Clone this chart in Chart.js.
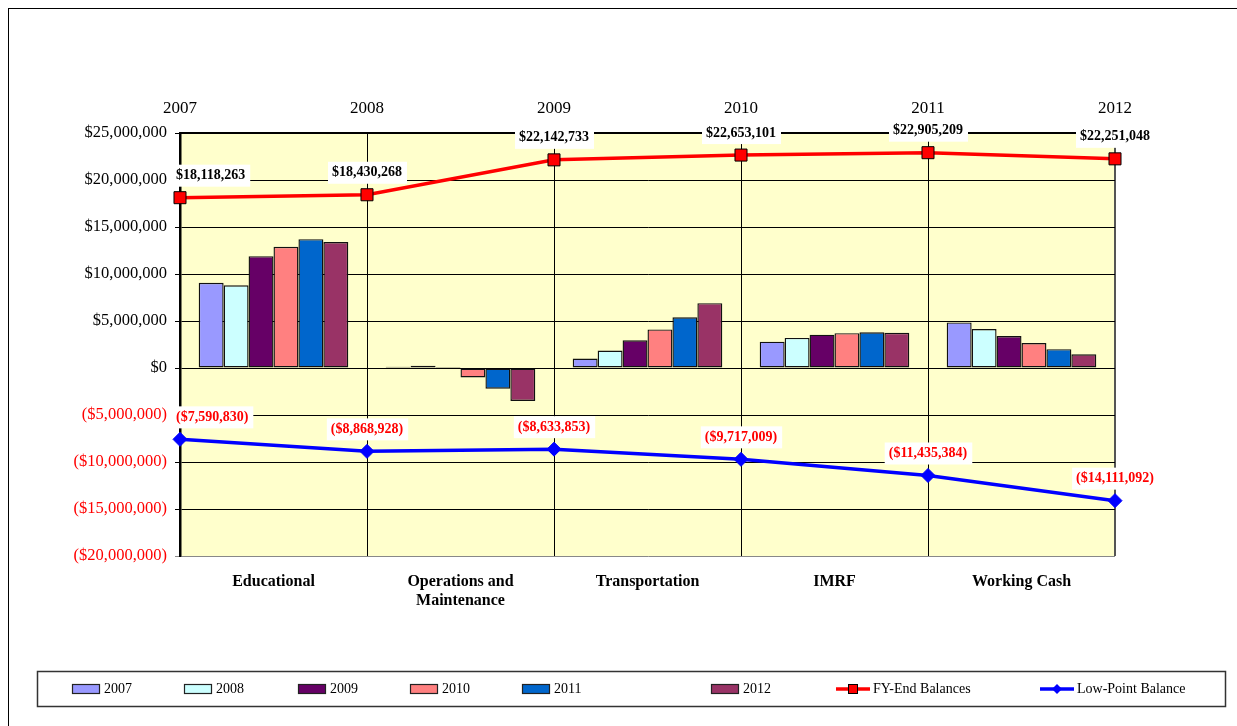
<!DOCTYPE html>
<html>
<head>
<meta charset="utf-8">
<script src="https://cdn.jsdelivr.net/npm/chart.js@4/dist/chart.umd.min.js"></script>
<style>
  html, body { margin: 0; padding: 0; background: #fff; }
  #wrap { position: relative; width: 1237px; height: 726px; }
  #frame { position: absolute; left: 8px; top: 8px; right: 0; bottom: 0;
           border-top: 1px solid #000; border-left: 1px solid #000; }
  #c { position: absolute; left: 0; top: 0; }
</style>
</head>
<body>
<div id="wrap">
  <div id="frame"></div>
  <canvas id="c" width="1237" height="726"></canvas>
</div>
<script>
// categories (funds) and the year tick labels on the top axis
var funds = ['Educational', ['Operations and', 'Maintenance'], 'Transportation', 'IMRF', 'Working Cash'];
var years = ['2007', '2008', '2009', '2010', '2011', '2012'];

// bar values per year, one value per fund (dollars)
var bal2007 = [9070000, 120000, 1000000, 2800000, 4850000];
var bal2008 = [8800000, 250000, 1850000, 3200000, 4150000];
var bal2009 = [11900000, 100000, 2950000, 3550000, 3400000];
var bal2010 = [12900000, -1000000, 4100000, 3700000, 2650000];
var bal2011 = [13700000, -2200000, 5400000, 3800000, 2000000];
var bal2012 = [13400000, -3500000, 6900000, 3750000, 1450000];

// line series, one point per year
var fyEnd = [18118263, 18430268, 22142733, 22653101, 22905209, 22251048];
var lowPoint = [-7590830, -8868928, -8633853, -9717009, -11435384, -14111092];

var barColors = ['#9999FF', '#CCFFFF', '#660066', '#FF8080', '#0066CC', '#993366'];
var serif = "'Liberation Serif', 'Times New Roman', serif";

function money(v) {
  var s = '$' + Math.abs(Math.round(v)).toLocaleString('en-US');
  return v < 0 ? '(' + s + ')' : s;
}

// bars and lines share the linear year axis; fund i sits between year i and year i+1
var barSets = [bal2007, bal2008, bal2009, bal2010, bal2011, bal2012].map(function (arr, i) {
  return {
    type: 'bar',
    label: years[i],
    data: arr.map(function (v, k) { return { x: k + 0.5, y: v }; }),
    backgroundColor: barColors[i],
    borderColor: '#111',
    borderWidth: 1.4,
    borderSkipped: false,
    xAxisID: 'xTop',
    yAxisID: 'y',
    categoryPercentage: 0.8,
    barPercentage: 1.0,
    order: 2
  };
});

var lineSets = [
  {
    type: 'line',
    label: 'FY-End Balances',
    data: fyEnd.map(function (v, i) { return { x: i, y: v }; }),
    borderColor: '#FF0000',
    borderWidth: 3.5,
    pointStyle: 'rect',
    pointRadius: 8.5,
    pointBackgroundColor: '#FF0000',
    pointBorderColor: '#000',
    pointBorderWidth: 1,
    xAxisID: 'xTop',
    yAxisID: 'y',
    clip: false,
    labelColor: '#000',
    order: 0
  },
  {
    type: 'line',
    label: 'Low-Point Balance',
    data: lowPoint.map(function (v, i) { return { x: i, y: v }; }),
    borderColor: '#0000FF',
    borderWidth: 3.5,
    pointStyle: 'rectRot',
    pointRadius: 7,
    pointBackgroundColor: '#0000FF',
    pointBorderColor: '#0000FF',
    pointBorderWidth: 1,
    xAxisID: 'xTop',
    yAxisID: 'y',
    clip: false,
    labelColor: '#FF0000',
    order: 0
  }
];

// yellow plot background
var plotBg = {
  id: 'plotBg',
  beforeDraw: function (chart) {
    var a = chart.chartArea, ctx = chart.ctx;
    ctx.save();
    ctx.fillStyle = '#FFFFCC';
    ctx.fillRect(a.left, a.top, a.right - a.left, a.bottom - a.top);
    ctx.restore();
  }
};

// value labels on white boxes above the line points
var pointLabels = {
  id: 'pointLabels',
  afterDatasetsDraw: function (chart) {
    var ctx = chart.ctx;
    ctx.save();
    ctx.font = 'bold 14px ' + serif;
    ctx.textBaseline = 'middle';
    chart.data.datasets.forEach(function (ds, di) {
      if (ds.type !== 'line') return;
      var meta = chart.getDatasetMeta(di);
      meta.data.forEach(function (pt, i) {
        var txt = money(ds.data[i].y);
        var w = ctx.measureText(txt).width;
        var cx = i === 0 ? pt.x - 4 + w / 2 : pt.x;
        var cy = pt.y - 22;
        ctx.fillStyle = '#fff';
        ctx.fillRect(cx - w / 2 - 4, cy - 11, w + 9, 22);
        ctx.fillStyle = ds.labelColor;
        ctx.textAlign = 'center';
        ctx.fillText(txt, cx, cy);
      });
    });
    ctx.restore();
  }
};

// boxed legend along the bottom
var boxLegend = {
  id: 'boxLegend',
  afterDraw: function (chart) {
    var ctx = chart.ctx;
    var xs = [72, 184, 298, 410, 522, 711, 836, 1040];
    ctx.save();
    ctx.strokeStyle = '#333';
    ctx.lineWidth = 1.5;
    ctx.strokeRect(37.5, 671.5, 1188, 35);
    ctx.font = '14px ' + serif;
    ctx.textBaseline = 'middle';
    ctx.textAlign = 'left';
    var ym = 689;
    chart.data.datasets.forEach(function (ds, i) {
      var x = xs[i];
      if (ds.type === 'bar') {
        ctx.fillStyle = ds.backgroundColor;
        ctx.fillRect(x, ym - 5, 28, 10);
        ctx.lineWidth = 1.2;
        ctx.strokeStyle = '#222';
        ctx.strokeRect(x + 0.5, ym - 4.5, 27, 9);
        ctx.fillStyle = '#000';
        ctx.fillText(ds.label, x + 32, ym);
      } else {
        ctx.strokeStyle = ds.borderColor;
        ctx.lineWidth = 3.5;
        ctx.beginPath();
        ctx.moveTo(x, ym);
        ctx.lineTo(x + 34, ym);
        ctx.stroke();
        ctx.fillStyle = ds.pointBackgroundColor;
        ctx.strokeStyle = ds.pointBorderColor;
        ctx.lineWidth = 1;
        if (ds.pointStyle === 'rect') {
          ctx.fillRect(x + 12, ym - 5, 10, 10);
          ctx.strokeRect(x + 12.5, ym - 4.5, 9, 9);
        } else {
          ctx.beginPath();
          ctx.moveTo(x + 17, ym - 5); ctx.lineTo(x + 22, ym);
          ctx.lineTo(x + 17, ym + 5); ctx.lineTo(x + 12, ym);
          ctx.closePath(); ctx.fill();
        }
        ctx.fillStyle = '#000';
        ctx.fillText(ds.label, x + 37, ym);
      }
    });
    ctx.restore();
  }
};

new Chart(document.getElementById('c').getContext('2d'), {
  data: { labels: funds, datasets: barSets.concat(lineSets) },
  options: {
    responsive: false,
    animation: false,
    layout: { padding: { left: 0, right: 122, top: 0, bottom: 0 } },
    plugins: { legend: { display: false }, tooltip: { enabled: false } },
    scales: {
      x: {
        type: 'category',
        position: 'bottom',
        offset: true,
        grid: { display: false, drawTicks: false },
        border: { display: false },
        ticks: { color: '#000', padding: 16, font: { family: serif, size: 16, weight: 'bold' } },
        afterFit: function (s) { s.height = 170; }
      },
      xTop: {
        type: 'linear',
        position: 'top',
        min: 0, max: 5,
        offset: false,
        grid: {
          offset: false,
          drawTicks: false,
          color: function (c) { return c.tick && c.tick.value === 5 ? '#555' : '#000'; },
          lineWidth: function (c) { return c.tick && c.tick.value === 5 ? 2 : 1; }
        },
        border: { display: true, color: '#000', width: 2 },
        ticks: {
          stepSize: 1,
          padding: 14,
          color: '#000',
          font: { family: serif, size: 17 },
          callback: function (v) { return years[v]; }
        },
        afterFit: function (s) { s.height = 133; }
      },
      y: {
        min: -20000000, max: 25000000,
        grid: {
          tickLength: 5,
          color: function (c) { return c.tick && c.tick.value === -20000000 ? '#888' : '#000'; },
          lineWidth: 1
        },
        border: { display: true, color: '#000', width: 2.5 },
        ticks: {
          stepSize: 5000000,
          padding: 8,
          font: { family: serif, size: 16.5 },
          color: function (c) { return c.tick && c.tick.value < 0 ? '#FF0000' : '#000'; },
          callback: function (v) { return money(v); }
        },
        afterFit: function (s) { s.width = 180; }
      }
    }
  },
  plugins: [plotBg, pointLabels, boxLegend]
});
</script>
</body>
</html>
